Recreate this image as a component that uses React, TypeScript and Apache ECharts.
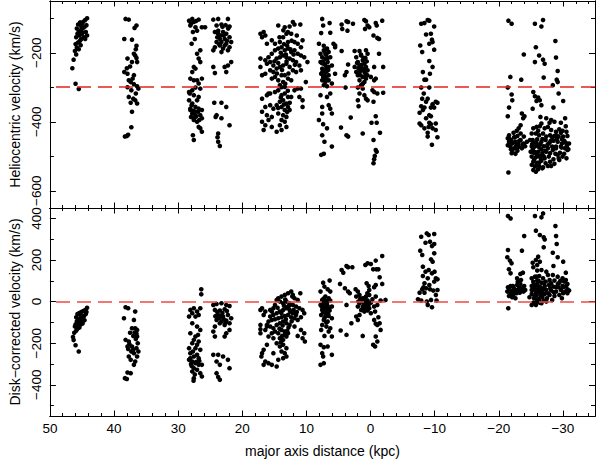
import React, { useEffect, useRef } from "react";
import * as echarts from "echarts";

// ---------- data: [major axis distance (kpc), velocity (km/s)] ----------
const helioField1 = [[44.2,-100],[44.5,-105],[44.8,-110],[45.0,-115],[44.3,-120],[45.3,-112],[45.6,-118],[44.6,-125],[44.9,-130],[45.2,-135],[45.5,-140],[45.8,-130],[44.4,-140],[45.0,-145],[45.4,-150],[45.7,-145],[44.7,-155],[45.1,-160],[44.5,-160],[45.9,-155],[45.3,-165],[45.6,-170],[44.2,-150],[46.0,-175],[45.8,-185],[46.1,-195],[45.5,-190],[45.9,-205],[46.3,-220],[46.5,-245],[46.0,-290],[45.5,-305],[45.2,-178],[44.9,-142],[45.1,-125]];
const helioField2 = [[38.2,-102],[37.7,-104],[36.5,-121],[36.8,-128],[38.4,-160],[37.2,-162],[37.9,-217],[36.9,-203],[36.7,-208],[36.4,-227],[37.2,-227],[38.4,-256],[37.9,-261],[37.7,-280],[37.4,-285],[36.9,-291],[36.4,-297],[36.2,-304],[37.3,-309],[37.7,-328],[37.0,-333],[36.7,-338],[36.4,-347],[37.2,-371],[37.3,-416],[38.0,-441],[37.8,-438],[38.3,-443],[36.6,-190],[36.5,-215],[37.5,-240],[38.0,-245],[36.9,-265],[37.1,-275],[37.9,-300],[36.6,-318],[37.4,-345],[36.5,-180]];
const helioField3 = [[28.3,-107],[27.8,-102],[27.56,-111],[26.8,-104],[28.1,-121],[27.3,-126],[27.05,-136],[27.7,-140],[26.3,-126],[25.8,-126],[27.9,-174],[27.4,-160],[26.55,-193],[27.05,-203],[26.8,-217],[26.55,-227],[27.56,-241],[27.3,-246],[27.8,-256],[28.1,-275],[27.56,-280],[27.05,-280],[26.3,-275],[26.8,-289],[26.55,-304],[27.3,-301],[28.3,-314],[27.8,-309],[27.56,-323],[26.8,-328],[28.3,-338],[27.8,-347],[27.3,-357],[28.1,-362],[26.8,-362],[26.3,-366],[27.8,-376],[27.3,-381],[27.56,-390],[26.55,-381],[26.3,-390],[27.05,-400],[27.56,-395],[28.1,-366],[27.4,-371],[26.9,-371],[26.55,-419],[26.3,-429],[27.7,-439],[27.56,-453],[26.8,-415],[27.05,-338],[28.2,-318],[27.9,-352],[27.2,-385],[26.7,-395],[27.6,-368],[28.0,-386],[28.0,-115],[27.2,-108]];
const helioField4 = [[24.52,-104],[23.76,-102],[22.24,-102],[24.01,-121],[23.25,-118],[21.99,-124],[24.27,-140],[23.76,-145],[23.0,-140],[22.5,-145],[23.5,-160],[22.75,-160],[21.99,-155],[24.01,-169],[23.25,-169],[22.5,-174],[21.73,-169],[24.27,-184],[23.0,-188],[22.24,-193],[24.52,-193],[23.5,-179],[22.75,-179],[21.99,-184],[23.25,-198],[23.76,-136],[21.73,-227],[22.24,-237],[22.5,-256],[24.52,-241],[24.27,-259],[22.75,-241],[24.37,-345],[23.25,-345],[22.5,-357],[24.01,-381],[23.25,-390],[21.99,-410],[23.76,-434],[23.86,-445],[23.76,-458],[23.5,-470],[24.16,-386],[23.1,-125],[22.9,-150],[23.4,-150],[22.6,-120],[23.6,-175],[22.4,-165],[23.9,-155],[22.2,-130]];
const helioField5 = [[17.17,-145],[16.67,-140],[16.92,-155],[16.16,-174],[16.41,-150],[14.39,-121],[13.38,-126],[12.62,-124],[12.11,-111],[11.86,-118],[10.95,-118],[13.12,-145],[13.63,-155],[12.37,-145],[15.4,-164],[14.9,-174],[14.14,-169],[12.87,-169],[11.86,-169],[11.36,-174],[10.85,-184],[10.6,-164],[17.17,-217],[16.41,-222],[15.91,-213],[15.4,-203],[14.9,-193],[14.39,-188],[13.88,-184],[13.38,-193],[12.87,-188],[12.37,-198],[11.86,-193],[11.36,-203],[10.85,-208],[10.34,-213],[9.84,-227],[16.16,-232],[15.65,-227],[15.15,-237],[14.64,-217],[14.14,-213],[13.63,-208],[13.12,-213],[12.62,-217],[12.11,-222],[11.61,-227],[11.1,-237],[17.17,-241],[16.92,-265],[16.41,-261],[15.65,-251],[15.15,-256],[14.64,-246],[14.14,-241],[13.63,-237],[13.12,-232],[12.62,-241],[12.11,-251],[11.61,-256],[10.85,-251],[15.4,-275],[14.9,-270],[14.39,-280],[13.88,-265],[13.38,-265],[12.87,-275],[12.37,-280],[13.63,-285],[14.14,-294],[13.38,-299],[10.09,-285],[11.36,-304],[10.85,-304],[11.86,-309],[16.92,-333],[16.16,-323],[15.65,-318],[14.9,-314],[14.39,-309],[13.88,-323],[13.38,-318],[12.87,-328],[12.37,-328],[11.1,-328],[10.6,-338],[16.41,-357],[16.92,-371],[15.65,-352],[15.15,-362],[14.64,-352],[14.14,-342],[13.63,-338],[13.12,-347],[12.87,-357],[13.88,-357],[13.38,-366],[12.62,-366],[10.6,-357],[16.16,-381],[15.4,-386],[14.39,-376],[13.63,-381],[13.12,-386],[13.88,-395],[13.38,-400],[16.92,-400],[16.41,-410],[15.91,-395],[15.4,-415],[14.14,-410],[16.67,-424],[14.64,-429],[13.88,-424],[13.12,-415],[15.91,-318],[13.5,-175],[13.0,-180],[14.0,-200],[12.5,-190],[13.2,-205],[14.4,-230],[12.0,-205],[13.8,-250],[12.8,-260],[14.6,-260],[13.1,-225],[11.8,-235],[15.0,-225],[12.3,-165],[13.6,-135],[14.2,-155],[11.5,-150],[12.9,-140],[13.3,-290],[13.9,-300],[12.9,-310],[14.0,-330],[13.5,-350],[12.6,-345],[13.0,-372],[14.4,-360]];
const helioField6 = [[7.54,-102],[7.39,-121],[6.38,-114],[6.28,-142],[7.7,-143],[8.05,-174],[5.78,-174],[5.53,-184],[7.8,-203],[7.29,-193],[6.79,-188],[6.53,-198],[7.54,-213],[7.04,-217],[6.28,-213],[7.8,-227],[7.29,-232],[6.69,-227],[6.03,-237],[7.54,-246],[7.04,-251],[6.53,-241],[7.7,-261],[7.19,-265],[6.53,-265],[5.53,-261],[7.54,-280],[7.04,-285],[6.53,-280],[6.03,-289],[7.29,-294],[6.79,-297],[7.8,-323],[6.28,-318],[6.79,-328],[7.54,-357],[6.53,-352],[6.28,-362],[7.54,-376],[6.03,-376],[8.05,-395],[7.39,-407],[6.79,-419],[7.54,-439],[7.19,-458],[6.03,-472],[7.7,-496],[7.29,-493],[6.89,-241],[7.39,-270],[6.89,-270],[7.04,-203],[7.2,-195],[6.9,-205],[7.4,-225],[6.7,-215],[7.1,-235],[7.5,-255],[6.9,-255],[7.3,-180],[6.6,-250],[7.0,-275],[7.6,-230],[6.8,-190]];
const helioField7 = [[4.51,-118],[4.41,-131],[3.75,-109],[3.5,-111],[3.6,-136],[2.74,-116],[0.96,-105],[0.71,-109],[0.46,-121],[0.2,-126],[0.86,-131],[-0.81,-114],[-0.96,-121],[-1.82,-107],[-0.46,-150],[-1.06,-157],[-1.32,-160],[4.51,-195],[3.5,-234],[3.75,-256],[4.0,-265],[5.52,-179],[2.48,-195],[1.72,-195],[0.71,-193],[2.23,-213],[1.47,-208],[0.46,-203],[1.98,-227],[1.22,-222],[0.96,-232],[2.48,-241],[1.72,-237],[0.71,-241],[2.23,-256],[1.47,-251],[0.96,-256],[0.46,-251],[1.98,-265],[1.22,-270],[0.71,-275],[1.72,-280],[0.96,-285],[1.47,-294],[1.98,-301],[1.22,-304],[-0.05,-270],[-0.56,-280],[-0.81,-275],[-1.32,-203],[-1.97,-241],[-0.56,-241],[3.9,-301],[1.72,-318],[0.96,-323],[0.71,-333],[0.46,-338],[-0.3,-309],[-0.56,-314],[-1.06,-318],[-1.97,-316],[1.98,-338],[1.87,-355],[-0.46,-342],[3.09,-388],[4.61,-417],[3.75,-439],[3.5,-443],[1.22,-434],[-0.15,-403],[-0.81,-384],[-0.96,-403],[-1.47,-432],[-0.46,-453],[-0.81,-482],[-0.96,-487],[-0.66,-499],[-0.56,-509],[-0.46,-520],[1.3,-245],[0.8,-260],[1.6,-265],[1.1,-215],[0.6,-225],[1.9,-245],[1.4,-235],[0.9,-270],[1.2,-290],[1.7,-255],[1.0,-250],[0.5,-265],[2.1,-230],[1.5,-205],[0.8,-215]];
const helioField8 = [[-7.9,-116],[-8.4,-114],[-8.91,-105],[-9.16,-107],[-9.92,-124],[-8.66,-147],[-9.41,-145],[-7.75,-179],[-9.16,-174],[-9.67,-169],[-9.57,-162],[-8.05,-198],[-9.92,-191],[-9.16,-224],[-9.67,-241],[-8.16,-256],[-9.26,-261],[-8.4,-278],[-8.66,-278],[-7.9,-301],[-9.16,-301],[-8.05,-333],[-8.91,-333],[-8.66,-342],[-9.67,-349],[-10.17,-342],[-10.43,-345],[-7.9,-355],[-8.4,-359],[-9.41,-359],[-9.92,-359],[-8.16,-366],[-7.65,-374],[-9.16,-381],[-9.41,-384],[-8.66,-390],[-7.65,-405],[-7.9,-410],[-9.16,-403],[-9.41,-407],[-10.17,-405],[-8.4,-419],[-9.67,-419],[-10.17,-424],[-8.91,-432],[-8.91,-443],[-10.43,-445],[-9.57,-467],[-9.06,-415],[-8.3,-318]];
const helioField9 = [[-21.5,-107],[-22.0,-116],[-23.9,-205],[-21.8,-270],[-23.5,-278],[-21.4,-301],[-22.0,-321],[-22.1,-338],[-21.6,-359],[-21.4,-384],[-23.6,-376],[-24.0,-384],[-23.8,-390],[-23.4,-410],[-23.1,-419],[-21.6,-439],[-21.4,-448],[-21.9,-453],[-22.4,-445],[-22.9,-441],[-22.1,-463],[-22.6,-458],[-23.4,-453],[-23.9,-463],[-21.4,-468],[-21.8,-472],[-22.4,-477],[-23.1,-472],[-23.6,-477],[-24.1,-471],[-22.1,-487],[-22.9,-484],[-22.0,-491],[-22.6,-493],[-21.6,-458],[-23.0,-463],[-23.4,-434],[-23.9,-443],[-21.5,-547],[-22.8,-426],[-22.3,-432],[-24.4,-458],[-21.7,-450],[-22.2,-460],[-22.7,-470],[-23.2,-455],[-21.9,-480],[-22.5,-445],[-23.7,-465],[-22.9,-475]];
const helioField10 = [[-25.63,-116],[-26.64,-124],[-26.9,-105],[-25.78,-184],[-26.29,-208],[-26.9,-220],[-27.15,-232],[-25.63,-227],[-28.82,-166],[-28.92,-214],[-29.18,-253],[-29.03,-278],[-29.18,-285],[-27.0,-272],[-28.42,-294],[-29.33,-318],[-30.04,-340],[-25.38,-314],[-25.63,-326],[-26.14,-330],[-26.39,-338],[-25.88,-340],[-25.28,-362],[-26.64,-352],[-28.52,-359],[-26.49,-386],[-27.4,-390],[-28.16,-395],[-30.34,-390],[-26.64,-405],[-27.91,-403],[-28.67,-400],[-29.68,-403],[-30.44,-413],[-25.38,-419],[-25.88,-415],[-26.39,-413],[-27.15,-419],[-27.65,-415],[-28.16,-424],[-28.92,-429],[-29.43,-422],[-29.94,-426],[-30.55,-429],[-25.13,-434],[-25.78,-434],[-26.29,-439],[-26.9,-434],[-27.4,-443],[-28.0,-439],[-28.67,-441],[-29.33,-443],[-30.04,-443],[-30.7,-441],[-25.28,-453],[-25.99,-451],[-26.64,-458],[-27.3,-453],[-27.91,-461],[-28.52,-455],[-29.18,-458],[-29.84,-463],[-30.44,-461],[-25.13,-471],[-25.63,-472],[-26.29,-474],[-27.0,-471],[-27.65,-477],[-28.32,-472],[-28.92,-477],[-29.68,-472],[-30.34,-477],[-30.85,-480],[-24.97,-487],[-25.48,-490],[-26.14,-487],[-26.79,-491],[-27.4,-487],[-28.0,-491],[-28.82,-493],[-29.53,-490],[-30.19,-493],[-30.7,-482],[-25.13,-501],[-25.78,-503],[-26.39,-499],[-27.15,-506],[-27.8,-501],[-28.52,-509],[-29.33,-506],[-29.94,-501],[-25.38,-516],[-25.99,-519],[-26.64,-513],[-27.3,-520],[-28.0,-516],[-28.67,-522],[-29.43,-511],[-25.13,-525],[-25.63,-530],[-26.29,-528],[-26.9,-532],[-27.65,-528],[-25.38,-540],[-26.14,-538],[-26.79,-535],[-25.78,-545],[-24.87,-453],[-29.68,-432],[-30.95,-463],[-30.55,-506],[-29.03,-451],[-28.32,-445],[-26.49,-465],[-27.15,-484],[-25.88,-461],[-27.65,-465],[-28.42,-482],[-29.18,-496],[-29.84,-451],[-26.14,-426],[-28.16,-528],[-28.92,-472],[-25.5,-510],[-26.0,-495],[-25.9,-525],[-26.5,-505],[-25.3,-480],[-26.2,-470],[-25.7,-460],[-26.8,-450],[-27.0,-500],[-26.3,-518],[-25.6,-488],[-26.6,-480],[-25.2,-465],[-27.5,-470],[-28.1,-455],[-29.0,-440],[-29.8,-475],[-30.2,-455],[-30.6,-470]];

const diskField1 = [[44.2,-30],[44.5,-40],[44.8,-45],[45.1,-50],[44.4,-60],[45.4,-55],[45.7,-60],[44.7,-70],[45.0,-75],[45.3,-80],[45.6,-85],[45.9,-75],[44.6,-90],[45.0,-95],[45.5,-100],[45.8,-95],[44.9,-105],[45.2,-110],[45.6,-115],[46.0,-110],[45.4,-125],[45.7,-130],[46.1,-120],[45.9,-140],[46.2,-150],[46.4,-170],[46.3,-185],[46.0,-210],[45.5,-240],[44.3,-50],[45.2,-65],[45.8,-105]];
const diskField2 = [[38.2,-27],[37.8,-32],[36.7,-48],[38.45,-80],[36.9,-88],[37.2,-128],[36.7,-128],[38.2,-184],[37.7,-192],[37.9,-216],[37.2,-216],[36.5,-224],[37.3,-240],[36.9,-248],[37.7,-264],[36.4,-264],[37.4,-280],[36.7,-288],[36.9,-304],[37.9,-341],[37.4,-344],[38.3,-368],[38.0,-372],[36.4,-136],[36.8,-149],[36.4,-168],[36.3,-200],[37.0,-165],[37.8,-228],[36.2,-240],[37.5,-150],[36.6,-180],[37.0,-230],[37.6,-205],[36.5,-155]];
const diskField3 = [[28.1,-40],[27.56,-32],[27.8,-56],[27.05,-48],[26.55,-32],[28.3,-72],[27.3,-72],[26.8,-64],[27.8,-104],[27.05,-120],[26.55,-136],[28.1,-152],[27.3,-168],[27.56,-184],[26.8,-192],[27.8,-200],[27.05,-208],[28.3,-224],[27.3,-224],[26.55,-232],[28.1,-248],[27.56,-264],[27.05,-256],[28.3,-280],[27.8,-288],[27.3,-296],[26.8,-304],[26.3,-304],[27.56,-320],[27.05,-328],[26.55,-344],[27.8,-336],[27.56,-368],[26.3,-360],[28.1,-272],[26.8,-272],[27.7,-240],[26.9,-160],[26.4,59],[26.4,35],[27.2,-290],[27.9,-310],[26.7,-285],[27.4,-350],[28.0,-300],[27.6,-380]];
const diskField4 = [[24.52,-16],[24.01,-11],[23.25,-8],[22.5,-16],[21.99,-21],[24.27,-40],[23.5,-43],[22.75,-37],[23.76,-64],[23.0,-72],[22.24,-64],[24.01,-88],[23.25,-96],[22.5,-91],[23.5,-104],[22.75,-112],[21.99,-104],[24.27,-120],[21.73,-80],[24.52,-144],[24.27,-168],[22.5,-152],[21.99,-136],[22.75,-168],[24.52,-256],[23.76,-256],[23.0,-264],[24.01,-288],[23.5,-304],[22.24,-280],[21.99,-320],[24.01,-344],[23.76,-363],[23.5,-376],[23.1,-55],[22.9,-85],[23.6,-80],[22.4,-45],[23.3,-70],[24.2,-70],[22.6,-100],[23.9,-50]];
const diskField5 = [[17.17,-40],[16.92,-32],[16.41,-48],[16.67,-64],[17.17,-112],[17.17,-133],[17.17,-152],[16.41,-136],[16.16,-120],[15.91,-96],[15.65,-72],[15.4,-48],[15.15,-32],[14.9,-16],[14.64,8],[14.39,16],[13.88,24],[13.38,32],[12.87,40],[12.37,48],[12.11,32],[11.86,16],[11.36,8],[10.95,40],[14.14,0],[13.63,-8],[13.12,0],[12.62,-8],[12.11,-16],[11.61,-24],[11.1,-32],[10.6,-40],[10.34,-56],[15.65,-40],[15.15,-64],[14.64,-56],[14.14,-48],[13.63,-40],[13.12,-32],[12.62,-40],[12.11,-56],[11.61,-64],[10.85,-75],[15.4,-88],[14.9,-85],[14.39,-80],[13.88,-75],[13.38,-69],[12.87,-64],[12.37,-75],[11.86,-80],[11.36,-88],[16.16,-112],[15.65,-120],[15.15,-128],[14.64,-112],[14.14,-104],[13.63,-96],[13.12,-104],[12.62,-112],[11.86,-120],[10.85,-136],[10.34,-152],[15.4,-152],[14.9,-144],[14.39,-152],[13.88,-136],[13.38,-144],[12.87,-152],[11.36,-165],[10.6,-176],[10.24,-192],[15.91,-168],[15.15,-176],[14.14,-176],[13.63,-184],[13.12,-168],[14.64,-200],[14.14,-216],[13.63,-208],[13.12,-224],[16.16,-208],[16.67,-232],[16.92,-248],[17.02,-264],[16.41,-288],[16.67,-304],[15.91,-296],[15.4,-304],[14.64,-312],[13.88,-240],[13.38,-248],[13.63,-272],[13.12,-264],[15.15,-248],[14.39,-280],[13.5,-20],[12.9,-25],[13.9,-55],[12.5,-50],[13.2,-85],[14.2,-130],[12.3,-95],[13.7,-115],[12.8,-125],[13.4,-160],[14.0,-195],[13.0,-140],[12.0,-40],[11.5,-50],[13.3,10],[12.2,25],[14.5,-30],[13.8,-165],[12.7,-20]];
const diskField6 = [[7.39,91],[6.38,101],[7.19,72],[6.69,59],[6.28,48],[7.8,48],[7.04,24],[6.53,16],[7.54,8],[6.89,0],[6.28,5],[7.8,-16],[7.29,-24],[6.69,-21],[6.03,-24],[7.54,-40],[6.89,-48],[6.38,-43],[7.7,-64],[7.04,-72],[6.53,-69],[6.03,-80],[7.29,-88],[6.69,-96],[7.54,-112],[6.89,-120],[6.28,-128],[7.7,-136],[6.53,-144],[6.03,-168],[7.19,-165],[7.8,-208],[7.29,-219],[6.69,-216],[7.54,-248],[6.03,-256],[7.39,-264],[7.8,-304],[7.29,-296],[7.04,-56],[7.39,-8],[6.79,-37],[7.1,-30],[6.8,-10],[7.4,-50],[6.6,-60],[7.0,5],[7.2,-80],[6.9,-100],[7.6,-25],[6.5,-35],[7.3,15]];
const diskField7 = [[4.51,152],[4.25,139],[3.75,171],[3.5,165],[2.84,165],[0.81,176],[0.46,184],[-0.05,181],[-0.41,155],[-0.91,155],[-1.22,155],[-0.81,197],[-1.82,219],[4.76,85],[4.0,64],[3.5,48],[3.24,40],[2.33,59],[1.98,48],[0.61,88],[0.3,75],[0.2,56],[-0.56,69],[-0.81,80],[-1.42,117],[-1.82,85],[2.23,24],[1.72,32],[1.22,16],[0.71,24],[0.2,32],[-0.3,11],[-0.81,24],[0.96,0],[0.46,5],[-0.05,-5],[1.72,-8],[1.98,-24],[1.22,-24],[0.71,-21],[0.2,-32],[-0.56,-24],[-1.06,-16],[-1.57,5],[-2.33,8],[3.75,-16],[1.47,-40],[0.96,-48],[0.46,-43],[-0.05,-56],[2.23,-72],[1.72,-64],[-0.71,-48],[-1.22,-75],[-0.56,-88],[2.99,-104],[1.98,-88],[4.66,-139],[3.75,-160],[1.22,-165],[-0.81,-107],[-1.06,-112],[-1.42,-104],[-1.57,-136],[-0.81,-168],[-1.06,-192],[-0.71,-216],[-0.41,-208],[1.0,10],[0.6,-10],[1.4,5],[0.3,-15],[0.9,-30],[1.6,15],[0.5,40],[1.1,-5],[0.8,20],[1.3,-40],[0.4,-25],[1.9,0]];
const diskField8 = [[-7.9,312],[-8.77,328],[-9.07,320],[-9.93,325],[-8.57,283],[-9.27,288],[-9.58,267],[-9.93,277],[-7.75,245],[-8.06,224],[-9.93,232],[-9.43,203],[-9.68,192],[-8.16,168],[-9.07,152],[-8.57,144],[-9.58,136],[-8.16,123],[-8.92,112],[-10.19,112],[-10.44,107],[-9.93,96],[-8.41,88],[-9.17,80],[-8.67,64],[-8.06,59],[-9.27,59],[-9.78,53],[-10.44,56],[-7.65,43],[-8.41,43],[-10.19,32],[-7.4,11],[-7.9,5],[-8.77,0],[-9.43,8],[-8.92,-16],[-9.58,-27],[-10.29,5],[-8.26,69],[-9.98,144]];
const diskField9 = [[-21.43,411],[-21.84,400],[-21.43,248],[-21.74,197],[-21.99,184],[-23.61,245],[-23.96,315],[-21.33,213],[-21.84,136],[-21.58,155],[-22.85,112],[-23.36,133],[-23.76,139],[-21.43,69],[-21.84,75],[-22.34,64],[-22.85,80],[-23.36,85],[-22.6,56],[-23.1,59],[-23.61,64],[-24.12,56],[-21.33,48],[-21.84,40],[-22.24,32],[-22.75,40],[-23.26,43],[-23.86,48],[-22.09,21],[-22.6,16],[-21.58,27],[-22.95,96],[-23.46,104],[-23.96,75],[-21.48,-32],[-21.6,60],[-22.0,50],[-22.4,45],[-22.8,55],[-23.2,70],[-21.9,30],[-23.5,50],[-22.2,75]];
const diskField10 = [[-25.64,411],[-26.65,405],[-26.9,424],[-28.83,363],[-25.79,341],[-26.4,320],[-27.0,309],[-27.16,299],[-28.93,315],[-29.03,277],[-27.0,261],[-28.42,235],[-29.18,213],[-30.04,192],[-26.14,216],[-25.79,200],[-26.4,192],[-25.38,165],[-25.99,176],[-25.28,187],[-26.65,152],[-27.41,144],[-28.52,171],[-30.45,139],[-25.99,149],[-25.13,112],[-25.64,120],[-26.3,123],[-26.9,112],[-27.66,128],[-28.42,128],[-29.18,120],[-29.94,112],[-30.45,104],[-25.38,96],[-25.99,101],[-26.65,91],[-27.31,96],[-27.92,104],[-28.68,101],[-29.44,91],[-30.2,96],[-30.7,85],[-25.13,75],[-25.79,80],[-26.4,72],[-27.16,75],[-27.82,80],[-28.52,72],[-29.33,69],[-29.94,75],[-30.7,59],[-25.38,56],[-25.99,53],[-26.65,48],[-27.41,56],[-28.17,53],[-28.93,48],[-29.69,56],[-30.35,48],[-25.13,37],[-25.89,32],[-26.5,27],[-27.16,37],[-27.92,32],[-28.68,27],[-29.44,32],[-30.04,40],[-25.48,16],[-26.14,11],[-26.8,21],[-27.51,16],[-28.32,8],[-25.38,-5],[-25.99,0],[-26.65,-8],[-27.41,0],[-25.13,-16],[-25.79,-16],[-26.3,8],[-27.0,5],[-24.78,21],[-28.93,69],[-28.02,64],[-27.66,40],[-26.14,64],[-30.96,53],[-29.84,16],[-30.7,40],[-25.13,56],[-25.89,120],[-28.17,88],[-26.9,59],[-25.5,65],[-26.0,85],[-25.8,40],[-26.3,45],[-25.6,25],[-26.6,65],[-26.2,100],[-25.4,80],[-27.0,90],[-26.8,40],[-25.9,10],[-26.4,-5],[-27.2,60],[-28.0,85],[-28.6,45],[-29.2,85],[-29.6,100],[-30.1,70],[-30.5,75]];

// ---------- tick values ----------
const xMajorTicks = [-30, -20, -10, 0, 10, 20, 30, 40, 50];
const xMinorTicks = [-34,-32,-28,-26,-24,-22,-18,-16,-14,-12,-8,-6,-4,-2,2,4,6,8,12,14,16,18,22,24,26,28,32,34,36,38,42,44,46,48];
const helioMajorTicks = [-600, -400, -200];
const helioMinorTicks = [-500, -300, -100];
const diskMajorTicks = [-400, -200, 0, 200, 400];
const diskMinorTicks = [-500, -300, -100, 100, 300];
const helioReference = -300;
const diskReference = 0;

const FONT = "Liberation Sans";
const fmt = (v: number) => (v < 0 ? "\u2212" + Math.abs(v) : String(v));

function xAxisDef(grid: number, position: string, ticks: number[], len: number, labels: boolean, name?: string) {
  return {
    type: "value", gridIndex: grid, position, min: -35, max: 50, inverse: true,
    axisLine: { show: true, onZero: false, lineStyle: { color: "#000", width: 1 } },
    axisTick: { show: true, inside: true, length: len, customValues: ticks, lineStyle: { color: "#000", width: 1 } },
    axisLabel: { show: labels, customValues: xMajorTicks, formatter: fmt, margin: 5, color: "#000", fontFamily: FONT, fontSize: 13.5 },
    splitLine: { show: false },
    name: name || "", nameLocation: "middle", nameGap: 28,
    nameTextStyle: { color: "#000", fontFamily: FONT, fontSize: 14 },
  };
}

function yAxisDef(grid: number, position: string, min: number, max: number, ticks: number[], len: number, labelVals: number[] | null, name?: string) {
  return {
    type: "value", gridIndex: grid, position, min, max,
    axisLine: { show: true, onZero: false, lineStyle: { color: "#000", width: 1 } },
    axisTick: { show: true, inside: true, length: len, customValues: ticks, lineStyle: { color: "#000", width: 1 } },
    axisLabel: labelVals
      ? { show: true, customValues: labelVals, rotate: 90, formatter: fmt, margin: 6, color: "#000", fontFamily: FONT, fontSize: 13.5 }
      : { show: false },
    splitLine: { show: false },
    name: name || "", nameLocation: "middle", nameGap: 24,
    nameTextStyle: { color: "#000", fontFamily: FONT, fontSize: 14 },
  };
}

export default function App() {
  const ref = useRef<HTMLDivElement>(null);
  useEffect(() => {
    if (!ref.current) return;
    const chart = echarts.init(ref.current, null, { renderer: "svg" });
    const helio = ([] as number[][]).concat(helioField1, helioField2, helioField3, helioField4, helioField5, helioField6, helioField7, helioField8, helioField9, helioField10);
    const disk = ([] as number[][]).concat(diskField1, diskField2, diskField3, diskField4, diskField5, diskField6, diskField7, diskField8, diskField9, diskField10);
    const mk = (value: number, color: string) => ({
      silent: true, symbol: ["none", "none"], label: { show: false },
      lineStyle: { color, width: 1.5, type: [14, 7], opacity: 1 },
      data: [{ yAxis: value }],
    });
    chart.setOption({
      animation: false,
      backgroundColor: "#fff",
      grid: [
        { left: 37, top: 1, width: 558, height: 207 },
        { left: 37, top: 208, width: 558, height: 208 },
      ],
      xAxis: [
        xAxisDef(0, "bottom", xMajorTicks, 5.5, false),
        xAxisDef(0, "bottom", xMinorTicks, 3, false),
        xAxisDef(0, "top", xMajorTicks, 5.5, false),
        xAxisDef(0, "top", xMinorTicks, 3, false),
        xAxisDef(1, "bottom", xMajorTicks, 5.5, true, "major axis distance (kpc)"),
        xAxisDef(1, "bottom", xMinorTicks, 3, false),
        xAxisDef(1, "top", xMajorTicks, 5.5, false),
        xAxisDef(1, "top", xMinorTicks, 3, false),
      ],
      yAxis: [
        yAxisDef(0, "left", -650, -50, helioMajorTicks, 6, helioMajorTicks, "Heliocentric velocity (km/s)"),
        yAxisDef(0, "left", -650, -50, helioMinorTicks, 4, null),
        yAxisDef(0, "right", -650, -50, helioMajorTicks, 6, null),
        yAxisDef(0, "right", -650, -50, helioMinorTicks, 4, null),
        yAxisDef(1, "left", -550, 450, diskMajorTicks, 6, diskMajorTicks, "Disk\u2212corrected velocity (km/s)"),
        yAxisDef(1, "left", -550, 450, diskMinorTicks, 4, null),
        yAxisDef(1, "right", -550, 450, diskMajorTicks, 6, null),
        yAxisDef(1, "right", -550, 450, diskMinorTicks, 4, null),
      ],
      series: [
        {
          type: "scatter", xAxisIndex: 0, yAxisIndex: 0, data: helio,
          symbol: "circle", symbolSize: 4.6, itemStyle: { color: "#000", opacity: 1 },
          silent: true, markLine: mk(helioReference, "#e3231e"),
        },
        {
          type: "scatter", xAxisIndex: 4, yAxisIndex: 4, data: disk,
          symbol: "circle", symbolSize: 4.6, itemStyle: { color: "#000", opacity: 1 },
          silent: true, markLine: mk(diskReference, "#ee4a44"),
        },
      ],
    });
    return () => chart.dispose();
  }, []);
  return <div ref={ref} style={{ position: "absolute", left: 0, top: 0, width: 598, height: 459 }} />;
}
